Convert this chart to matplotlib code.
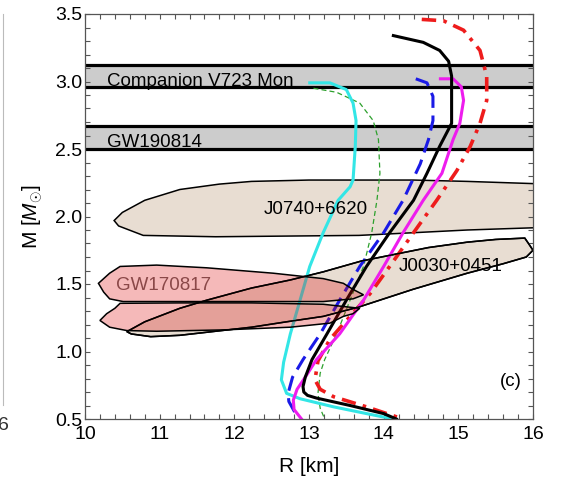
import matplotlib
matplotlib.use("Agg")
import matplotlib.pyplot as plt
from matplotlib.patches import Polygon
from matplotlib.ticker import MultipleLocator

plt.rcParams['font.family'] = ['Liberation Sans', 'DejaVu Sans']
plt.rcParams['mathtext.fontset'] = 'custom'
plt.rcParams['mathtext.it'] = 'Liberation Sans:italic'
plt.rcParams['mathtext.rm'] = 'Liberation Sans'

# ---- data: mass-radius curves (R [km], M [Msun]) ----
black_R = [14.13, 14.53, 14.75, 14.87, 14.91, 14.91, 14.91, 14.75, 14.58, 14.40, 14.08, 13.77, 13.50, 13.24, 13.04, 12.95, 12.92, 12.93, 12.98, 13.10, 13.55, 14.00, 14.17]
black_M = [3.34, 3.29, 3.23, 3.15, 3.04, 2.85, 2.69, 2.52, 2.32, 2.12, 1.88, 1.63, 1.38, 1.13, 0.94, 0.81, 0.74, 0.70, 0.675, 0.655, 0.60, 0.54, 0.50]

magenta_R = [14.76, 14.93, 15.04, 15.07, 15.02, 14.93, 14.78, 14.53, 14.26, 14.00, 13.73, 13.41, 13.10, 12.95, 12.84, 12.79, 12.80, 12.90]
magenta_M = [3.02, 3.02, 2.96, 2.86, 2.69, 2.57, 2.32, 2.12, 1.88, 1.63, 1.38, 1.13, 0.94, 0.81, 0.72, 0.64, 0.57, 0.50]

blue_R = [14.43, 14.58, 14.66, 14.66, 14.60, 14.49, 14.26, 14.00, 13.68, 13.41, 13.15, 12.92, 12.78, 12.72, 12.73, 12.77, 12.83]
blue_M = [3.02, 2.99, 2.89, 2.71, 2.57, 2.39, 2.12, 1.88, 1.63, 1.38, 1.13, 0.94, 0.81, 0.69, 0.63, 0.59, 0.53]

cyan_R = [13.01, 13.28, 13.50, 13.59, 13.63, 13.62, 13.59, 13.55, 13.39, 13.19, 13.01, 12.88, 12.75, 12.66, 12.63, 12.70, 12.88, 13.33, 13.77, 14.13]
cyan_M = [2.99, 2.99, 2.94, 2.84, 2.71, 2.52, 2.27, 2.22, 2.12, 1.88, 1.63, 1.38, 1.13, 0.92, 0.79, 0.69, 0.65, 0.59, 0.54, 0.50]

green_R = [13.06, 13.37, 13.68, 13.86, 13.93, 13.95, 13.91, 13.84, 13.73, 13.55, 13.37, 13.21, 13.15, 13.12, 13.15, 13.21]
green_M = [2.95, 2.92, 2.84, 2.71, 2.57, 2.32, 2.12, 1.88, 1.63, 1.38, 1.13, 0.94, 0.84, 0.69, 0.58, 0.50]

red_R = [14.51, 14.80, 15.07, 15.29, 15.38, 15.38, 15.29, 15.16, 14.98, 14.71, 14.40, 14.08, 13.82, 13.55, 13.28, 13.12, 13.08, 13.15, 13.33, 13.77, 14.26]
red_M = [3.46, 3.45, 3.38, 3.23, 3.04, 2.86, 2.69, 2.52, 2.34, 2.12, 1.88, 1.63, 1.43, 1.26, 1.09, 0.93, 0.79, 0.72, 0.665, 0.59, 0.50]

# ---- mass bands ----
band_names = ["Companion V723 Mon", "GW190814"]
band_low = [2.96, 2.50]
band_high = [3.12, 2.67]

# ---- observational contours ----
j0740_R = [10.39, 10.50, 10.80, 11.27, 11.80, 12.23, 13.00, 13.67, 14.40, 15.12, 16.20,
           16.20, 15.12, 14.40, 13.67, 12.70, 11.75, 10.78, 10.45]
j0740_M = [1.97, 2.03, 2.12, 2.20, 2.24, 2.26, 2.27, 2.27, 2.27, 2.26, 2.24,
           1.92, 1.90, 1.88, 1.86, 1.855, 1.85, 1.86, 1.93]

j0030_R = [10.56, 10.80, 11.27, 11.63, 12.23, 12.75, 13.19, 13.70, 14.15, 14.60, 15.12, 15.50, 15.89, 15.94, 16.00, 15.91, 15.60, 15.12, 14.39, 13.67, 13.19, 12.70, 12.23, 11.75, 11.27, 10.88, 10.62]
j0030_M = [1.147, 1.22, 1.32, 1.38, 1.47, 1.53, 1.59, 1.67, 1.72, 1.77, 1.81, 1.83, 1.84, 1.80, 1.75, 1.70, 1.65, 1.58, 1.46, 1.33, 1.26, 1.22, 1.18, 1.15, 1.12, 1.11, 1.13]

gw_up_R = [10.18, 10.33, 10.47, 10.96, 11.63, 12.52, 13.19, 13.46, 13.59, 13.73, 13.59, 13.19, 12.23, 11.27, 10.51, 10.33, 10.25]
gw_up_M = [1.505, 1.58, 1.63, 1.64, 1.62, 1.58, 1.54, 1.505, 1.46, 1.42, 1.39, 1.37, 1.37, 1.37, 1.37, 1.39, 1.44]

gw_lo_R = [10.47, 11.27, 12.23, 13.19, 13.68, 13.59, 13.46, 13.28, 12.75, 11.85, 10.96, 10.56, 10.33, 10.20, 10.29, 10.40]
gw_lo_M = [1.357, 1.36, 1.36, 1.35, 1.32, 1.28, 1.26, 1.21, 1.18, 1.16, 1.15, 1.155, 1.18, 1.23, 1.28, 1.32]

xticks = [10, 11, 12, 13, 14, 15, 16]
yticks = [0.5, 1.0, 1.5, 2.0, 2.5, 3.0, 3.5]

fig = plt.figure(figsize=(5.66, 4.78), dpi=100)
ax = fig.add_axes([85/566, 1-419/478, 448/566, 405/478])

# beige regions
for R, M in [(j0740_R, j0740_M), (j0030_R, j0030_M)]:
    ax.add_patch(Polygon(list(zip(R, M)), closed=True, facecolor='#e8ddd2',
                         edgecolor='black', lw=1.1, zorder=1))

fs = 13.5
# bands
for lo, hi in zip(band_low, band_high):
    ax.axhspan(lo, hi, facecolor='#cccccc', edgecolor='none', zorder=1)
    ax.axhline(lo, color='black', lw=2.3, zorder=3)
    ax.axhline(hi, color='black', lw=2.3, zorder=3)
ax.text(10.29, 2.968, band_names[0], fontsize=fs, va='baseline', ha='left', zorder=2)
ax.text(10.29, 2.515, band_names[1], fontsize=fs, va='baseline', ha='left', zorder=2)

# curves
kw = dict(solid_joinstyle='round', dash_joinstyle='round', zorder=4)
ax.plot(green_R, green_M, color='#2ca02c', lw=0.9, ls=(0, (4, 2.5)), **kw)
ax.plot(cyan_R, cyan_M, color='#33e6e6', lw=2.2, **kw)
ax.plot(blue_R, blue_M, color='#1a1ae6', lw=2.2, ls=(0, (5, 2.5)), **kw)
ax.plot(red_R, red_M, color='#ee1c1c', lw=2.6, ls=(0, (4, 2, 1, 2)), **kw)
ax.plot(magenta_R, magenta_M, color='#ee1cee', lw=2.2, **kw)
ax.plot(black_R, black_M, color='black', lw=2.2, **kw)

# GW170817 on top (translucent)
for R, M in [(gw_up_R, gw_up_M), (gw_lo_R, gw_lo_M)]:
    ax.add_patch(Polygon(list(zip(R, M)), closed=True, facecolor=(0.867, 0.055, 0.055, 0.29),
                         edgecolor='none', zorder=5))
for R, M in [(gw_up_R, gw_up_M), (gw_lo_R, gw_lo_M), (j0030_R, j0030_M)]:
    ax.add_patch(Polygon(list(zip(R, M)), closed=True, facecolor='none',
                         edgecolor='black', lw=1.1, zorder=5))

ax.text(12.4, 2.05, "J0740+6620", fontsize=fs, va='center', ha='left', zorder=6)
ax.text(14.2, 1.63, "J0030+0451", fontsize=fs, va='center', ha='left', zorder=6)
ax.text(10.41, 1.49, "GW170817", fontsize=fs, va='center', ha='left', color='#8a4848', zorder=6)
ax.text(15.55, 0.78, "(c)", fontsize=fs, va='center', ha='left', zorder=6)

ax.set_xlim(10, 16)
ax.set_ylim(0.5, 3.5)
ax.set_xticks(xticks)
ax.set_yticks(yticks)
ax.set_xticklabels([str(t) for t in xticks])
ax.set_yticklabels(["%.1f" % t for t in yticks])
ax.xaxis.set_minor_locator(MultipleLocator(0.2))
ax.yaxis.set_minor_locator(MultipleLocator(0.1))
ax.tick_params(which='both', direction='in', top=True, right=True, length=3.5,
               width=0.8, color='#555555', labelsize=14, pad=2)
ax.tick_params(axis='x', which='major', pad=5)
for s in ax.spines.values():
    s.set_color('#555555')
    s.set_linewidth(0.9)
    s.set_zorder(7)

ax.set_xlabel("R [km]", fontsize=15, labelpad=10)
ax.set_ylabel(r"M [$M_{\odot}$]", fontsize=15, labelpad=7)

# remnants of neighbouring panel
fig.text(-0.004, 1-425/478, "6", fontsize=14, va='center', ha='left', color='#333333')
fig.add_artist(plt.Line2D([3/566, 3/566], [1-405/478, 1-14/478], color='#bbbbbb', lw=0.8))

fig.savefig("out.png", dpi=100)
